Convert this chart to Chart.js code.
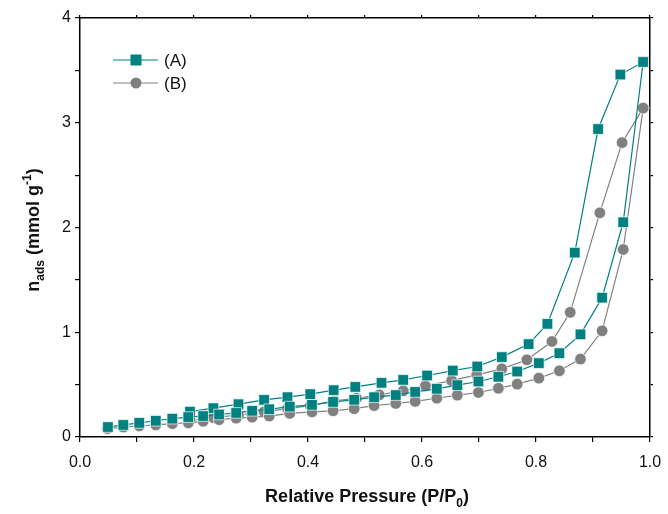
<!DOCTYPE html>
<html>
<head>
<meta charset="utf-8">
<script src="https://cdn.jsdelivr.net/npm/chart.js@4"></script>
<style>
html,body{margin:0;padding:0;background:#fff;}
#wrap{width:668px;height:514px;position:relative;}
</style>
</head>
<body>
<div id="wrap"><canvas id="c" width="668" height="514"></canvas></div>
<script>
// ---- data ----
const seriesNames = ['(A)', '(B)'];
const aAdsX = [0.049,0.076,0.104,0.133,0.162,0.19,0.216,0.244,0.274,0.302,0.332,0.368,0.407,0.444,0.481,0.516,0.554,0.588,0.626,0.662,0.699,0.734,0.767,0.805,0.841,0.878,0.916,0.953,0.988];
const aAdsY = [0.095,0.115,0.135,0.155,0.175,0.19,0.20,0.215,0.23,0.25,0.265,0.29,0.307,0.335,0.355,0.38,0.40,0.43,0.46,0.495,0.53,0.575,0.625,0.705,0.80,0.98,1.33,2.05,3.58];
const aDesX = [0.988,0.948,0.909,0.868,0.82,0.787,0.74,0.697,0.654,0.609,0.567,0.529,0.483,0.445,0.404,0.364,0.323,0.278,0.234,0.193];
const aDesY = [3.58,3.46,2.94,1.76,1.08,0.887,0.763,0.673,0.634,0.587,0.545,0.517,0.478,0.447,0.409,0.38,0.354,0.313,0.275,0.242];
const bAdsX = [0.048,0.076,0.104,0.133,0.162,0.19,0.216,0.244,0.274,0.302,0.332,0.368,0.407,0.444,0.481,0.516,0.554,0.588,0.626,0.662,0.699,0.734,0.767,0.805,0.841,0.878,0.916,0.953,0.988];
const bAdsY = [0.08,0.095,0.105,0.115,0.127,0.135,0.15,0.165,0.18,0.19,0.20,0.225,0.24,0.25,0.27,0.30,0.32,0.34,0.37,0.40,0.425,0.465,0.505,0.562,0.632,0.744,1.014,1.79,3.14];
const bDesX = [0.988,0.951,0.912,0.86,0.828,0.784,0.74,0.696,0.652,0.606,0.567,0.525,0.485,0.446,0.404,0.364,0.323,0.278,0.234,0.193];
const bDesY = [3.14,2.81,2.14,1.19,0.912,0.737,0.651,0.593,0.539,0.488,0.44,0.402,0.37,0.345,0.30,0.27,0.24,0.21,0.185,0.16];
const xTicks = [0.0,0.1,0.2,0.3,0.4,0.5,0.6,0.7,0.8,0.9,1.0];
const yTicks = [0,0.5,1,1.5,2,2.5,3,3.5,4];

// ---- style ----
const TEAL = '#008080';
const GRAY = '#808080';
const FONT = 'Liberation Sans, Arial, sans-serif';

function pts(xs, ys){ return xs.map((x,i)=>({x:x, y:ys[i]})); }
function ds(label, xs, ys, color, shape, r){
  return {label:label, data:pts(xs,ys), borderColor:color, backgroundColor:color,
    pointBackgroundColor:color, pointBorderColor:'rgba(255,255,255,0.85)', pointBorderWidth:0.8,
    pointStyle:shape, pointRadius:r, pointHoverRadius:r, borderWidth:1.2, showLine:true, fill:false, tension:0};
}

const datasets = [
  ds(seriesNames[0], aAdsX, aAdsY, TEAL, 'rect', 7.5),
  ds(seriesNames[0], aDesX, aDesY, TEAL, 'rect', 7.5),
  ds(seriesNames[1], bAdsX, bAdsY, GRAY, 'circle', 5.8),
  ds(seriesNames[1], bDesX, bDesY, GRAY, 'circle', 5.8)
];

const decoPlugin = {
  id:'deco',
  afterDraw(chart){
    const ctx = chart.ctx;
    const ca = chart.chartArea;
    ctx.save();
    // legend
    const leg = [[0,60],[2,83]];
    leg.forEach(([di,y])=>{
      const d = chart.data.datasets[di];
      ctx.strokeStyle = d.borderColor; ctx.lineWidth = 1.2;
      ctx.beginPath(); ctx.moveTo(113,y); ctx.lineTo(158,y); ctx.stroke();
      ctx.fillStyle = d.borderColor;
      if(d.pointStyle==='rect'){ ctx.fillRect(130.5,y-5.5,11,11); }
      else { ctx.beginPath(); ctx.arc(136,y,5.5,0,Math.PI*2); ctx.fill(); }
      ctx.fillStyle = '#111'; ctx.font = '17px '+FONT; ctx.textBaseline='middle'; ctx.textAlign='left';
      ctx.fillText(d.label, 164, y+1);
    });
    // x title
    ctx.fillStyle = '#111';
    ctx.textBaseline = 'alphabetic';
    const bf = 'bold 18px '+FONT, sf = 'bold 12px '+FONT;
    const parts = [['Relative Pressure (P/P',bf,0],['0',sf,5],[')',bf,0]];
    let w = 0; parts.forEach(p=>{ctx.font=p[1]; w+=ctx.measureText(p[0]).width;});
    let x = (ca.left+ca.right)/2 - w/2 + 2; const by = 502;
    parts.forEach(p=>{ctx.font=p[1]; ctx.fillText(p[0], x, by+p[2]); x+=ctx.measureText(p[0]).width;});
    // y title
    ctx.translate(39, 230);
    ctx.rotate(-Math.PI/2);
    const yp = [['n',bf,0],['ads',sf,5],[' (mmol g',bf,0],['-1',sf,-8],[')',bf,0]];
    w = 0; yp.forEach(p=>{ctx.font=p[1]; w+=ctx.measureText(p[0]).width;});
    x = -w/2;
    yp.forEach(p=>{ctx.font=p[1]; ctx.fillText(p[0], x, p[2]); x+=ctx.measureText(p[0]).width;});
    ctx.restore();
  }
};

const axisCommon = {
  border:{display:true, color:'#000', width:1.5},
  grid:{display:true, drawOnChartArea:false, drawTicks:true, tickLength:5, color:'#000', lineWidth:1.2}
};
function zeroPad(s){ s.paddingLeft = 0; s.paddingRight = 0; s.paddingTop = 0; s.paddingBottom = 0; }

new Chart(document.getElementById('c'), {
  type:'scatter',
  data:{datasets:datasets},
  options:{
    responsive:false, animation:false, devicePixelRatio:1,
    layout:{padding:{left:0,right:0,top:0,bottom:0}},
    plugins:{legend:{display:false}, tooltip:{enabled:false}},
    scales:{
      x:{type:'linear', position:'bottom', min:0, max:1, ...axisCommon,
        afterBuildTicks:s=>{s.ticks = xTicks.map(v=>({value:v}));},
        afterFit:s=>{s.height = 77; zeroPad(s);},
        ticks:{color:'#111', font:{family:FONT,size:16}, padding:11, maxRotation:0, autoSkip:false,
          callback:(v)=> (Math.round(v*10)%2===0 ? v.toFixed(1) : '')}},
      x2:{type:'linear', position:'top', min:0, max:1, ...axisCommon,
        afterBuildTicks:s=>{s.ticks = xTicks.map(v=>({value:v}));},
        afterFit:s=>{s.height = 18; zeroPad(s);},
        grid:{...axisCommon.grid, tickLength:3},
        ticks:{display:false}},
      y:{type:'linear', position:'left', min:0, max:4, ...axisCommon,
        afterBuildTicks:s=>{s.ticks = yTicks.map(v=>({value:v}));},
        afterFit:s=>{s.width = 80; zeroPad(s);},
        ticks:{color:'#111', font:{family:FONT,size:16}, padding:4, autoSkip:false,
          callback:(v)=> (Number.isInteger(v) ? String(v) : '')}},
      y2:{type:'linear', position:'right', min:0, max:4, ...axisCommon,
        afterBuildTicks:s=>{s.ticks = yTicks.map(v=>({value:v}));},
        afterFit:s=>{s.width = 18; zeroPad(s);},
        grid:{...axisCommon.grid, tickLength:3},
        ticks:{display:false}}
    }
  },
  plugins:[decoPlugin]
});
</script>
</body>
</html>
